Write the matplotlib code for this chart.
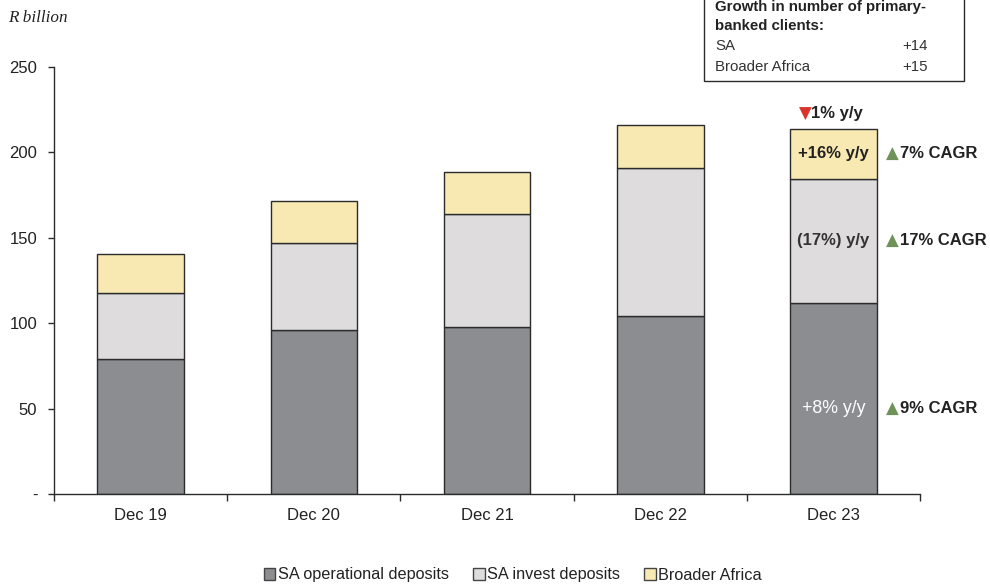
import matplotlib

matplotlib.use('Agg')

import matplotlib.pyplot as plt
from matplotlib.patches import Rectangle, Patch
import numpy as np

# data (R billion)
periods = ['Dec 19', 'Dec 20', 'Dec 21', 'Dec 22', 'Dec 23']
sa_operational = [79.0, 96.0, 98.0, 104.0, 112.0]
sa_invest = [38.4, 51.0, 66.0, 86.6, 72.4]
broader_africa = [23.0, 24.3, 24.6, 25.6, 29.4]
series_names = ['SA operational deposits', 'SA invest deposits', 'Broader Africa']
yticks = [0, 50, 100, 150, 200, 250]
ytick_labels = ['-', '50', '100', '150', '200', '250']

colors = ['#8c8d90', '#dedcdc', '#f8e9b3']
edge = '#2b2b2b'
fam = ['Liberation Sans', 'DejaVu Sans']

plt.rcParams['font.family'] = fam

fig = plt.figure(figsize=(9.9, 5.84), dpi=100)
ax = fig.add_axes([54 / 990, 1 - 494 / 584, 866 / 990, 427 / 584])

x = np.arange(len(periods))
w = 0.5
b1 = np.array(sa_operational)
b2 = b1 + np.array(sa_invest)
ax.bar(x, sa_operational, w, color=colors[0], edgecolor=edge, linewidth=1)
ax.bar(x, sa_invest, w, bottom=b1, color=colors[1], edgecolor=edge, linewidth=1)
ax.bar(x, broader_africa, w, bottom=b2, color=colors[2], edgecolor=edge, linewidth=1)

ax.set_xlim(-0.5, 4.5)
ax.set_ylim(0, 250)
ax.set_yticks(yticks)
ax.set_yticklabels(ytick_labels)
ax.set_xticks(x)
ax.set_xticklabels(periods)
ax.set_xticks(np.arange(-0.5, 5, 1), minor=True)
ax.tick_params(axis='x', which='major', length=0, pad=10, labelsize=12, colors='#222222')
ax.tick_params(axis='x', which='minor', length=5, width=1, color=edge, direction='out')
ax.tick_params(axis='y', length=4, width=1, color=edge, pad=8, labelsize=12, labelcolor='#222222')
for s in ['top', 'right']:
    ax.spines[s].set_visible(False)
for s in ['left', 'bottom']:
    ax.spines[s].set_color(edge)
    ax.spines[s].set_linewidth(1)

fig.text(8 / 990, 1 - 18 / 584, 'R billion', family='Liberation Serif', style='italic',
         fontsize=12.3, va='center', color='#222222')

# annotations on the last bar
tot = b2 + np.array(broader_africa)
xl = x[-1]
ax.text(xl - 0.128, tot[-1] + 9, '▼', color='#d9342b', fontsize=12, ha='right', va='center',
        family=['DejaVu Sans'])
ax.text(xl - 0.128, tot[-1] + 9, '1% y/y', color='#222222', fontsize=12, fontweight='bold',
        ha='left', va='center')
ax.text(xl, b2[-1] + broader_africa[-1] / 2, '+16% y/y', fontsize=12, fontweight='bold',
        ha='center', va='center', color='#222222')
ax.text(xl, b1[-1] + sa_invest[-1] / 2, '(17%) y/y', fontsize=12, fontweight='bold',
        ha='center', va='center', color='#333333')
ax.text(xl, 50, '+8% y/y', fontsize=12.8, ha='center', va='center', color='white')

cagr = [('7% CAGR', b2[-1] + broader_africa[-1] / 2),
        ('17% CAGR', b1[-1] + sa_invest[-1] / 2),
        ('9% CAGR', 50)]
for label, yv in cagr:
    ax.text(xl + 0.305, yv, '▲', color='#6e9258', fontsize=12, ha='left', va='center',
            family=['DejaVu Sans'])
    ax.text(xl + 0.385, yv, label, color='#222222', fontsize=12, fontweight='bold',
            ha='left', va='center')

# info box, top right
fig.patches.append(Rectangle((704 / 990, 1 - 81 / 584), 260 / 990, 0.2, transform=fig.transFigure,
                             facecolor='white', edgecolor=edge, linewidth=1, clip_on=False))
fig.text(715 / 990, 1 - 7 / 584, 'Growth in number of primary-', fontsize=10.8, fontweight='bold',
         va='center', color='#222222')
fig.text(715 / 990, 1 - 26 / 584, 'banked clients:', fontsize=10.8, fontweight='bold',
         va='center', color='#222222')
fig.text(715 / 990, 1 - 46 / 584, 'SA', fontsize=10.8, va='center', color='#333333')
fig.text(715 / 990, 1 - 67 / 584, 'Broader Africa', fontsize=10.8, va='center', color='#333333')
fig.text(928 / 990, 1 - 46 / 584, '+14', fontsize=10.8, va='center', ha='right', color='#333333')
fig.text(928 / 990, 1 - 67 / 584, '+15', fontsize=10.8, va='center', ha='right', color='#333333')

handles = [Patch(facecolor=c, edgecolor='#444444', linewidth=1) for c in colors]
fig.legend(handles, series_names, loc='center', bbox_to_anchor=(513 / 990, 1 - 575 / 584), ncol=3,
           frameon=False, fontsize=11.7, handlelength=0.7, handleheight=0.7, handletextpad=0.15,
           columnspacing=1.5, labelcolor='#222222')

fig.savefig('out.png', dpi=100)
